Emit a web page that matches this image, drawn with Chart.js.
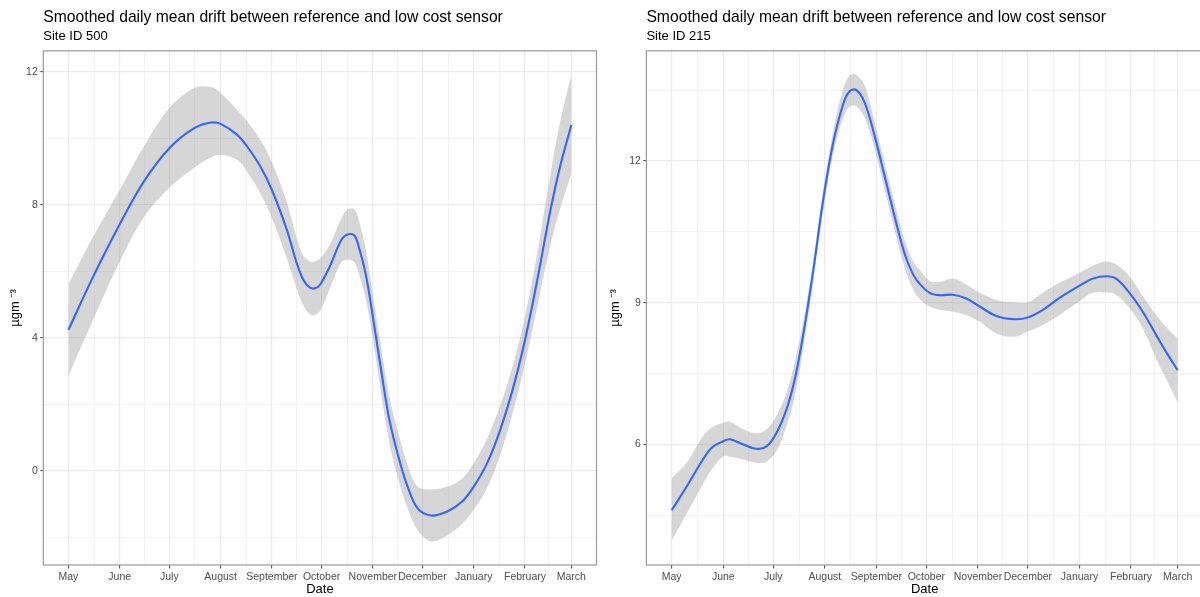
<!DOCTYPE html>
<html><head><meta charset="utf-8">
<script src="https://cdn.jsdelivr.net/npm/chart.js@4.4.1/dist/chart.umd.min.js"></script>
<style>
html,body{margin:0;padding:0;background:#fff;}
body{width:1200px;height:597px;overflow:hidden;position:relative;}
#wrapL{position:absolute;left:0;top:0;width:600px;height:597px;overflow:hidden;}
#wrapR{position:absolute;left:600px;top:0;width:600px;height:597px;overflow:hidden;}
canvas{display:block;}
</style></head><body>
<div id="wrapL"><canvas id="c1" width="600" height="597"></canvas></div>
<div id="wrapR"><canvas id="c2" width="612" height="597"></canvas></div>
<script>
// ---------- text ----------
const titleText = 'Smoothed daily mean drift between reference and low cost sensor';
const subtitleLeft = 'Site ID 500';
const subtitleRight = 'Site ID 215';
const xAxisTitle = 'Date';
const yAxisTitle = 'µgm ⁻³';

// ---------- x axis (months) ----------
const startDate = '2021-05-01';
const monthTickDates = ['2021-05-01','2021-06-01','2021-07-01','2021-08-01','2021-09-01','2021-10-01',
  '2021-11-01','2021-12-01','2022-01-01','2022-02-01','2022-03-01'];
const monthTickLabels = ['May','June','July','August','September','October','November','December',
  'January','February','March'];

// ---------- Site 500 (left) ----------
const site500Dates = ['2021-05-01','2021-05-16','2021-06-01','2021-06-16','2021-07-01','2021-07-16','2021-07-26',
  '2021-08-01','2021-08-11','2021-08-17','2021-08-25','2021-09-01','2021-09-10','2021-09-16','2021-09-20',
  '2021-09-24','2021-09-27','2021-09-30','2021-10-06','2021-10-13','2021-10-17','2021-10-21','2021-10-24',
  '2021-10-28','2021-11-01','2021-11-06','2021-11-11','2021-11-17','2021-11-22','2021-11-28','2021-12-06',
  '2021-12-16','2021-12-25','2022-01-01','2022-01-09','2022-01-17','2022-01-25','2022-02-01','2022-02-08',
  '2022-02-16','2022-02-22','2022-03-01'];
const site500Mean = [4.24,5.85,7.42,8.74,9.71,10.31,10.48,10.44,10.11,9.76,9.16,8.45,7.25,6.25,5.74,
  5.51,5.49,5.59,6.15,6.95,7.12,7.07,6.65,5.84,4.64,3.03,1.53,0.32,-0.48,-1.13,-1.35,
  -1.23,-0.93,-0.48,0.22,1.23,2.53,3.94,5.64,7.75,9.12,10.41];
const site500Upper = [5.62,7.05,8.45,9.80,10.92,11.52,11.55,11.37,10.86,10.52,9.96,9.28,8.08,7.00,6.47,
  6.30,6.30,6.38,6.80,7.60,7.88,7.86,7.45,6.60,5.30,3.72,2.22,1.02,0.17,-0.48,-0.57,
  -0.48,-0.24,0.22,0.95,1.97,3.23,4.64,6.44,8.82,10.45,11.92];
const site500Lower = [2.86,4.55,6.30,7.66,8.52,9.12,9.43,9.51,9.36,9.00,8.35,7.60,6.40,5.48,4.98,
  4.70,4.69,4.80,5.48,6.28,6.36,6.27,5.85,5.10,3.98,2.33,0.83,-0.38,-1.13,-1.78,-2.13,
  -1.95,-1.60,-1.18,-0.53,0.48,1.83,3.23,4.84,6.72,7.85,8.95];

// ---------- Site 215 (right) ----------
const site215Dates = ['2021-05-01','2021-05-10','2021-05-19','2021-05-25','2021-06-01','2021-06-05','2021-06-13',
  '2021-06-21','2021-06-27','2021-07-03','2021-07-09','2021-07-14','2021-07-19','2021-07-25','2021-07-31',
  '2021-08-06','2021-08-12','2021-08-16','2021-08-20','2021-08-25','2021-08-31','2021-09-06','2021-09-12',
  '2021-09-18','2021-09-23','2021-09-27','2021-10-03','2021-10-09','2021-10-17','2021-10-25','2021-11-02',
  '2021-11-12','2021-11-23','2021-12-01','2021-12-10','2021-12-20','2022-01-01','2022-01-09','2022-01-17',
  '2022-01-23','2022-01-31','2022-02-08','2022-02-16','2022-02-22','2022-03-01'];
const site215Mean = [4.61,5.11,5.64,5.93,6.07,6.11,6.00,5.91,5.96,6.25,6.75,7.39,8.32,9.67,11.17,
  12.38,13.20,13.48,13.50,13.23,12.52,11.67,10.81,10.03,9.60,9.40,9.21,9.16,9.17,9.09,8.92,
  8.72,8.65,8.69,8.85,9.10,9.36,9.51,9.56,9.51,9.21,8.81,8.32,7.96,7.57];
const site215Upper = [5.29,5.61,6.14,6.36,6.46,6.48,6.32,6.23,6.32,6.61,7.10,7.75,8.60,9.88,11.38,
  12.63,13.52,13.82,13.82,13.59,12.81,11.95,11.10,10.31,9.88,9.70,9.46,9.44,9.51,9.38,9.21,
  9.06,9.01,9.01,9.21,9.42,9.63,9.78,9.87,9.81,9.56,9.14,8.74,8.49,8.24];
const site215Lower = [3.97,4.54,5.11,5.47,5.75,5.74,5.68,5.61,5.64,5.86,6.39,7.03,8.03,9.46,10.95,
  12.16,12.91,13.15,13.16,12.91,12.24,11.38,10.52,9.74,9.28,9.08,8.92,8.85,8.81,8.74,8.60,
  8.35,8.28,8.39,8.53,8.74,9.03,9.21,9.22,9.17,8.89,8.46,7.82,7.39,6.89];

// ---------- y axis ticks ----------
const leftYTicks = [0,4,8,12];
const leftYMinorTicks = [-2,2,6,10];
const rightYTicks = [6,9,12];
const rightYMinorTicks = [4.5,7.5,10.5,13.5];

// ---------- helpers ----------
const FONT = "'Liberation Sans', Arial, Helvetica, sans-serif";
Chart.defaults.font.family = FONT;
const DAY = 86400000;
const t0 = Date.parse(startDate);
const toDay = s => (Date.parse(s) - t0) / DAY;

const majorX = monthTickDates.map(toDay);
const minorX = majorX.slice(0, -1).map((v, i) => (v + majorX[i + 1]) / 2);
const xLabel = new Map(majorX.map((v, i) => [v, monthTickLabels[i]]));
const span = majorX[majorX.length - 1] - majorX[0];
const xMin = majorX[0] - 0.05 * span, xMax = majorX[majorX.length - 1] + 0.05 * span;

const panelBorder = {
  id: 'panelBorder',
  afterDatasetsDraw(chart) {
    const {ctx, chartArea: a} = chart;
    ctx.save();
    ctx.strokeStyle = '#9a9a9a';
    ctx.lineWidth = 1.2;
    ctx.strokeRect(a.left, a.top, a.right - a.left, a.bottom - a.top);
    ctx.restore();
  }
};

function pts(dates, vals) { return dates.map((d, i) => ({x: toDay(d), y: vals[i]})); }

function makeChart(id, cfg) {
  const yMajorSet = new Set(cfg.yTicks);
  const xMajorSet = new Set(majorX);
  const allY = [...cfg.yTicks, ...cfg.yMinor].sort((a, b) => a - b);
  const allX = [...majorX, ...minorX].sort((a, b) => a - b);
  const TENSION = 0.35;
  new Chart(document.getElementById(id), {
    type: 'line',
    data: {
      datasets: [
        {data: pts(cfg.dates, cfg.upper), borderWidth: 0, pointRadius: 0, fill: '+1',
         backgroundColor: 'rgba(153,153,153,0.4)', tension: TENSION, order: 2},
        {data: pts(cfg.dates, cfg.lower), borderWidth: 0, pointRadius: 0, fill: false,
         tension: TENSION, order: 2},
        {data: pts(cfg.dates, cfg.mean), borderColor: '#3366FF', borderWidth: 2.1, pointRadius: 0,
         fill: false, tension: TENSION, order: 1}
      ]
    },
    options: {
      responsive: false, animation: false,
      layout: {padding: {left: 0, right: cfg.padRight, top: 0, bottom: 0}},
      plugins: {
        legend: {display: false}, tooltip: {enabled: false},
        title: {display: true, text: titleText, align: 'start', fullSize: false, color: '#000',
          font: {size: 15.7, weight: 'normal', family: FONT}, padding: {top: 8, bottom: 2}},
        subtitle: {display: true, text: cfg.subtitle, align: 'start', fullSize: false, color: '#000',
          font: {size: 13, weight: 'normal', family: FONT}, padding: {top: 0, bottom: 6.4}}
      },
      scales: {
        x: {
          type: 'linear', min: xMin, max: xMax,
          afterBuildTicks: s => { s.ticks = allX.map(v => ({value: v})); },
          afterFit: s => { s.height = 32; },
          ticks: {autoSkip: false, maxRotation: 0, minRotation: 0, padding: 2.5, color: '#4D4D4D',
            font: {size: 10.5, family: FONT}, callback: v => xLabel.has(v) ? xLabel.get(v) : ''},
          grid: {
            color: '#EBEBEB',
            lineWidth: c => (c.tick && xMajorSet.has(c.tick.value)) ? 1.2 : 0.6,
            tickLength: 3.5, tickWidth: 1,
            tickColor: c => (c.tick && xMajorSet.has(c.tick.value)) ? '#444' : 'rgba(0,0,0,0)'
          },
          border: {display: false},
          title: {display: true, text: xAxisTitle, color: '#000', font: {size: 13, family: FONT},
            padding: {top: 0, bottom: -0.5}}
        },
        y: {
          type: 'linear', min: cfg.yMin, max: cfg.yMax,
          afterBuildTicks: s => { s.ticks = allY.map(v => ({value: v})); },
          afterFit: s => { s.width = cfg.yWidth; },
          ticks: {autoSkip: false, padding: 2.5, color: '#4D4D4D', font: {size: 10.5, family: FONT},
            callback: v => yMajorSet.has(v) ? String(v) : ''},
          grid: {
            color: '#EBEBEB',
            lineWidth: c => (c.tick && yMajorSet.has(c.tick.value)) ? 1.2 : 0.6,
            tickLength: 3, tickWidth: 1,
            tickColor: c => (c.tick && yMajorSet.has(c.tick.value)) ? '#444' : 'rgba(0,0,0,0)'
          },
          border: {display: false},
          title: {display: true, text: yAxisTitle, color: '#000', font: {size: 13, family: FONT},
            padding: {top: 8, bottom: 0}}
        }
      }
    },
    plugins: [panelBorder]
  });
}

makeChart('c1', {dates: site500Dates, mean: site500Mean, upper: site500Upper, lower: site500Lower,
  subtitle: subtitleLeft, yTicks: leftYTicks, yMinor: leftYMinorTicks, yMin: -2.84, yMax: 12.64,
  yWidth: 43.3, padRight: 3.5});
makeChart('c2', {dates: site215Dates, mean: site215Mean, upper: site215Upper, lower: site215Lower,
  subtitle: subtitleRight, yTicks: rightYTicks, yMinor: rightYMinorTicks, yMin: 3.45, yMax: 14.33,
  yWidth: 46.4, padRight: 9});
</script>
</body></html>
